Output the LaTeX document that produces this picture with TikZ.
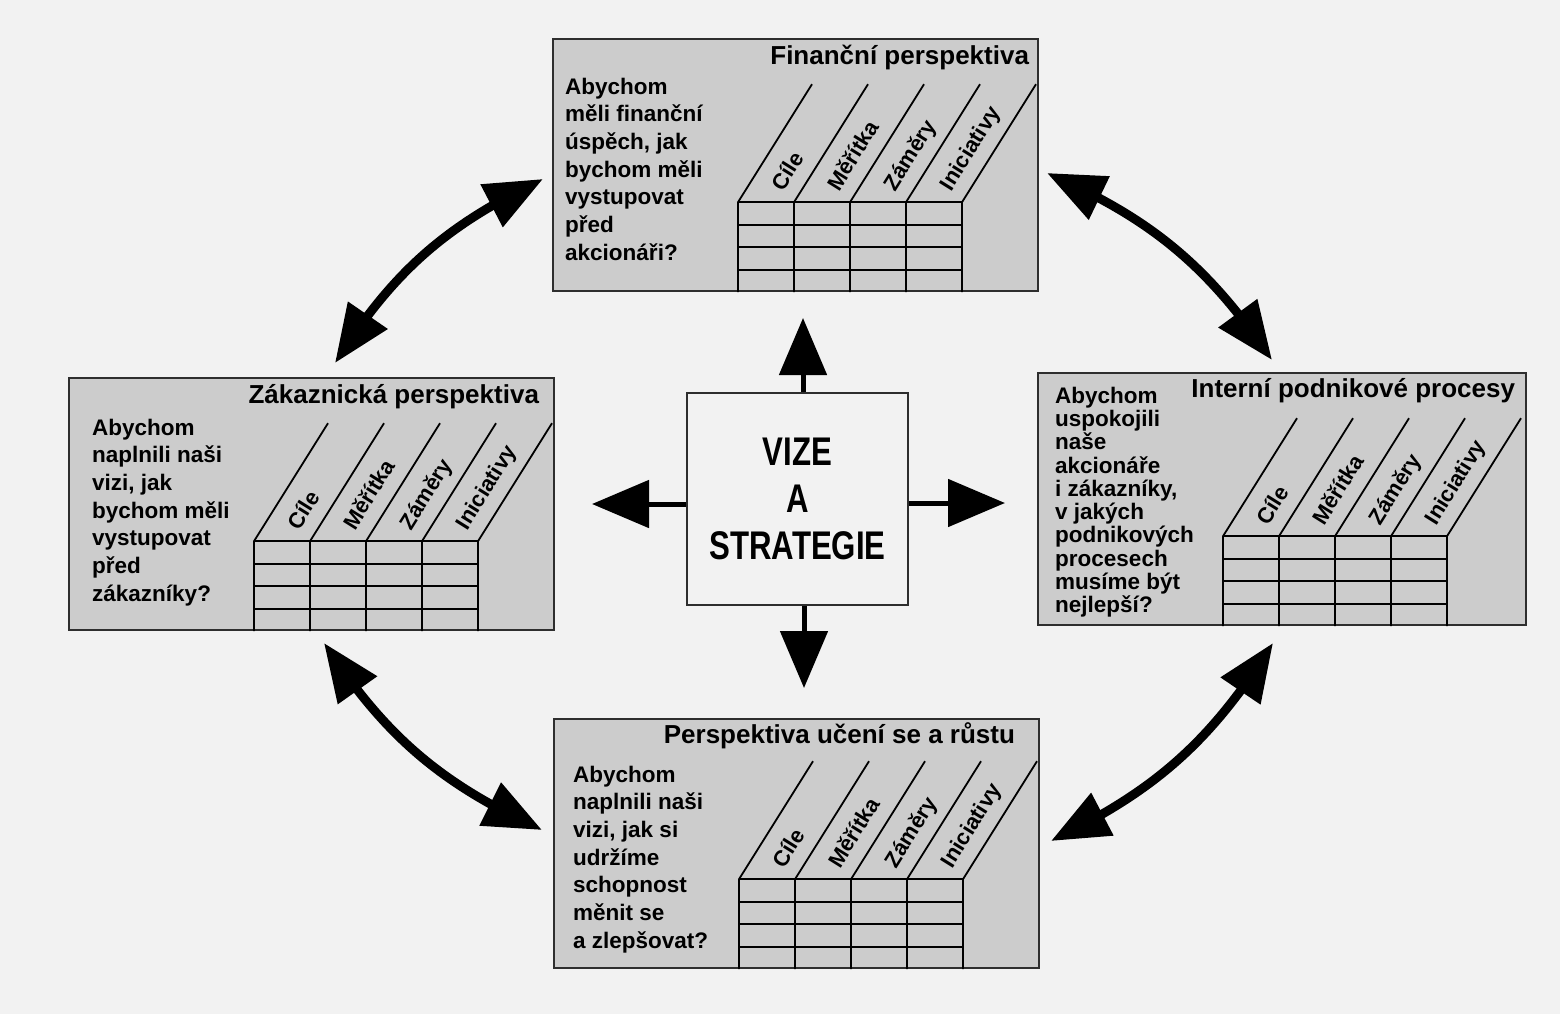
\documentclass[tikz,border=0pt]{standalone}
\usepackage{fontspec}
\setmainfont{Liberation Sans}
\newfontfamily\uzkepismo{Liberation Sans}[FakeStretch=0.78]
\usepackage{xcolor}
\usetikzlibrary{calc,arrows.meta,bending}

\definecolor{papir}{gray}{0.95}
\definecolor{vypln}{gray}{0.80}
\definecolor{cara}{gray}{0.18}

\tikzset{
  persp/.style={draw=cara, line width=2.2pt, fill=vypln, minimum width=485pt, minimum height=252pt, anchor=north west, inner sep=0pt},
  nadpis/.style={anchor=base east, inner sep=0pt, font=\fontsize{26}{30}\selectfont\bfseries},
  otazka/.style={anchor=north west, align=left, inner sep=0pt, font=\fontsize{22.5}{27.7}\selectfont\bfseries},
  sloupec/.style={anchor=base west, rotate=58, inner sep=0pt, font=\fontsize{22}{24}\selectfont\bfseries},
  mrizka/.style={line width=1.8pt, draw=black},
  vizebox/.style={draw=cara, line width=2.5pt, fill=papir, minimum width=221pt, minimum height=212pt, align=center, inner sep=0pt, font=\uzkepismo\bfseries\fontsize{40}{47}\selectfont},
  kriz/.style={line width=5pt, -{Triangle[length=57pt,width=47pt]}},
  oblouk/.style={line width=9pt, {Triangle[length=58pt,width=46pt]}-{Triangle[length=58pt,width=46pt]}},
}

% tabulka se sikmymi sloupci v rohu karty
\newcommand{\tabulka}[1]{%
  \begin{scope}[shift={(#1.south west)}]
    \foreach \i in {0,...,4}
      \draw[mrizka] (186+56*\i,0) -- (186+56*\i,-90) -- ++(74,-118);
    \foreach \j in {1,...,4}
      \draw[mrizka] (186,-22.5*\j) -- (410,-22.5*\j);
    \foreach \t [count=\i from 0] in {Cíle,Měřítka,Záměry,Iniciativy}
      \node[sloupec] at (186+56*\i+45,-100) {\t};
  \end{scope}}

\begin{document}
\begin{tikzpicture}[x=1pt,y=-1pt]
  % pozadi
  \fill[papir] (0,0) rectangle (1560,1014);
  \useasboundingbox (0,0) rectangle (1560,1014);

  % ctyri karty
  \node[persp] (fin) at (552,38) {};
  \node[persp] (zak) at (68,377) {};
  \node[persp, minimum width=488pt] (int) at (1037,372) {};
  \node[persp, minimum height=249pt] (uc) at (553,718) {};

  % nadpisy karet
  \node[nadpis] (finN) at ($(fin.north east)+(-10,27)$) {Finanční perspektiva};
  \node[nadpis] (zakN) at ($(zak.north east)+(-16,26)$) {Zákaznická perspektiva};
  \node[nadpis] (intN) at ($(int.north east)+(-12,25)$) {Interní podnikové procesy};
  \node[nadpis] (ucN) at ($(uc.north east)+(-25,25)$) {Perspektiva učení se a růstu};

  % otazky
  \node[otazka] (finQ) at ($(fin.north west)+(13,39.6)$)
    {Abychom\\měli finanční\\úspěch, jak\\bychom měli\\vystupovat\\před\\akcionáři?};
  \node[otazka] (zakQ) at ($(zak.north west)+(24,41.6)$)
    {Abychom\\naplnili naši\\vizi, jak\\bychom měli\\vystupovat\\před\\zákazníky?};
  \node[otazka, font=\fontsize{22.5}{23.3}\selectfont\bfseries] (intQ) at ($(int.north west)+(18,14.6)$)
    {Abychom\\uspokojili\\naše\\akcionáře\\i zákazníky,\\v jakých\\podnikových\\procesech\\musíme být\\nejlepší?};
  \node[otazka] (ucQ) at ($(uc.north west)+(20,47.6)$)
    {Abychom\\naplnili naši\\vizi, jak si\\udržíme\\schopnost\\měnit se\\a zlepšovat?};

  % tabulky
  \tabulka{fin}
  \tabulka{zak}
  \tabulka{int}
  \tabulka{uc}

  % stred
  \node[vizebox] (vize) at (797.5,499) {VIZE\\A\\STRATEGIE};

  % sipky ze stredu
  \coordinate (sipN) at (803,318);
  \coordinate (sipS) at (804,688);
  \coordinate (sipW) at (592,504);
  \coordinate (sipE) at (1005,503);
  \draw[kriz] (vize.north -| sipN) -- (sipN);
  \draw[kriz] (vize.south -| sipS) -- (sipS);
  \draw[kriz] (vize.west |- sipW) -- (sipW);
  \draw[kriz] (vize.east |- sipE) -- (sipE);

  % oblouky mezi kartami
  \coordinate (zakH) at (335,363);
  \coordinate (finL) at (543,179);
  \coordinate (finP) at (1047,173);
  \coordinate (intH) at (1272,360);
  \coordinate (zakD) at (324,643);
  \coordinate (ucL) at (542,830);
  \coordinate (intD) at (1273,643);
  \coordinate (ucP) at (1051,841);
  \draw[oblouk] (zakH) to[bend left=16] (finL);
  \draw[oblouk] (finP) to[bend left=16] (intH);
  \draw[oblouk] (zakD) to[bend right=16] (ucL);
  \draw[oblouk] (intD) to[bend left=16] (ucP);
\end{tikzpicture}
\end{document}
